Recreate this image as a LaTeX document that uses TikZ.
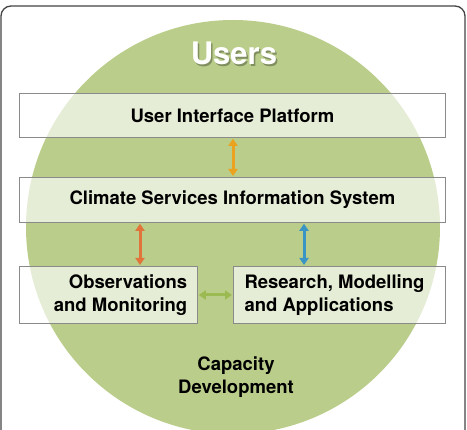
\documentclass[tikz,border=0pt]{standalone}
\usepackage{fontspec}
\setmainfont{TeX Gyre Heros}
\usetikzlibrary{arrows.meta}
\definecolor{circ}{HTML}{BACD8A}
\definecolor{frame}{HTML}{444444}
\definecolor{boxline}{HTML}{8A8A8A}
\definecolor{aorange}{HTML}{EBA21E}
\definecolor{ared}{HTML}{E0743A}
\definecolor{ablue}{HTML}{3A94C4}
\definecolor{agreen}{HTML}{9CBA52}
\tikzset{
  panel/.style={draw=boxline, line width=0.8pt, fill=white, fill opacity=0.65, text opacity=1, inner sep=0pt},
  lbl/.style={font=\bfseries\fontsize{18.5}{22.5}\selectfont, text=black, align=center},
  dbl/.style={line width=3pt, {Triangle[width=9pt,length=7pt]}-{Triangle[width=9pt,length=7pt]}, shorten <=1pt, shorten >=1pt}
}
\begin{document}
\begin{tikzpicture}[x=1pt,y=-1pt]
\useasboundingbox (0,0) rectangle (467,430);
\clip (0,0) rectangle (467,430);
\fill[white] (0,0) rectangle (467,430);
% outer frame
\draw[frame, line width=1.3pt, rounded corners=10pt] (1,470) -- (1,6) -- (465,6) -- (465,470);
% big circle
\fill[circ] (233,227) circle (207);
% boxes
\node[panel, minimum width=426pt, minimum height=44pt, anchor=north west] (uip) at (19,93) {};
\node[panel, minimum width=426pt, minimum height=45pt, anchor=north west] (csis) at (19,177) {};
\node[panel, minimum width=178pt, minimum height=57pt, anchor=north west] (obs) at (19,266) {};
\node[panel, minimum width=212pt, minimum height=57pt, anchor=north west] (res) at (233,266) {};
% texts
\node[lbl] (uipt) at (uip.center) {User Interface Platform};
\node[lbl] (csist) at (csis.center) {Climate Services Information System};
\node[lbl, align=right, anchor=east] (obst) at ([xshift=-7pt]obs.east) {Observations\\and Monitoring};
\node[lbl, align=left, anchor=west] (rest) at ([xshift=8pt]res.west) {Research, Modelling\\and Applications};
\node[lbl] (cap) at (236,377) {Capacity\\Development};
% Users title with soft shadow
\node[font=\bfseries\fontsize{31}{34}\selectfont, text=black, text opacity=0.3] (usershadow) at (235.5,55.5) {Users};
\node[font=\bfseries\fontsize{31}{34}\selectfont, text=white] (users) at (234,53.5) {Users};
% arrows
\coordinate (xa) at (233,0);
\coordinate (xb) at (140,0);
\coordinate (xc) at (304,0);
\coordinate (yd) at (0,295);
\draw[dbl, aorange] (uip.south -| xa) -- (csis.north -| xa);
\draw[dbl, ared] (csis.south -| xb) -- (obs.north -| xb);
\draw[dbl, ablue] (csis.south -| xc) -- (res.north -| xc);
\draw[dbl, agreen] (obs.east |- yd) -- (res.west |- yd);
\end{tikzpicture}
\end{document}
